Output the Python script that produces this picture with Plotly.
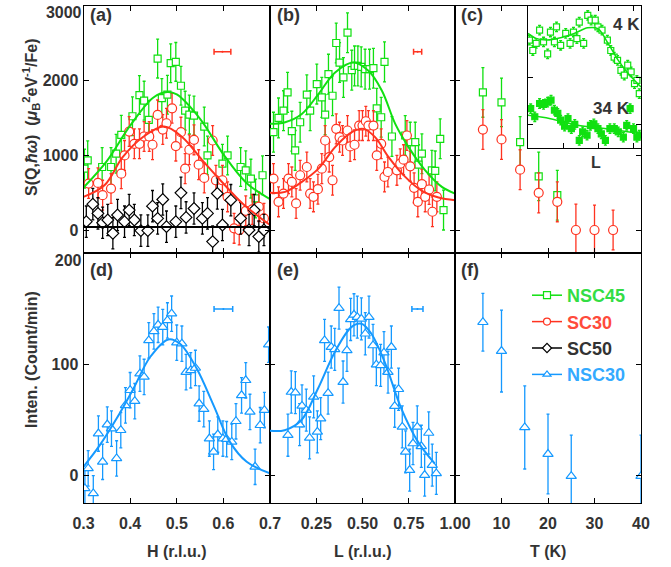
import plotly.graph_objects as go

# ---------------- data ----------------
# (a) H scans, S(Q,hw)
h_nsc45 = [0.302, 0.309, 0.340, 0.359, 0.370, 0.381, 0.405, 0.420, 0.430, 0.440, 0.459, 0.468, 0.480, 0.487,
           0.498, 0.509, 0.518, 0.527, 0.537, 0.559, 0.566, 0.598, 0.609, 0.637, 0.648, 0.659, 0.669, 0.684]
s_nsc45_h = [823, 934, 845, 845, 1023, 1276, 1525, 1809, 1734, 1476, 2298, 1769, 1814, 2236,
             2254, 1934, 1600, 1547, 1534, 1387, 1000, 889, 1000, 845, 800, 689, 423, 734]
h_sc30 = [0.311, 0.331, 0.341, 0.359, 0.381, 0.388, 0.398, 0.409, 0.420, 0.430, 0.441, 0.448, 0.459, 0.470,
          0.478, 0.490, 0.498, 0.509, 0.518, 0.527, 0.537, 0.547, 0.559, 0.577, 0.584, 0.598, 0.609, 0.623,
          0.634, 0.648, 0.662, 0.676, 0.687]
s_sc30_h = [623, 632, 467, 556, 756, 1000, 1320, 1156, 1156, 1254, 1254, 1143, 1543, 1347,
            1431, 1632, 1125, 1312, 823, 1076, 1209, 876, 698, 1200, 667, 667, 445, 23,
            0, 258, 276, 312, 156]
h_sc50 = [0.306, 0.320, 0.331, 0.341, 0.352, 0.363, 0.373, 0.388, 0.398, 0.409, 0.423, 0.438, 0.448, 0.459,
          0.470, 0.478, 0.498, 0.509, 0.520, 0.537, 0.555, 0.566, 0.577, 0.587, 0.598, 0.616, 0.637, 0.655,
          0.666, 0.676, 0.687]
s_sc50_h = [112, 347, 223, 98, 134, -44, 201, 112, 267, 134, -8, -8, 320, 156,
            409, 45, 112, 498, 169, 289, 156, 223, -155, 489, 67, 400, 156, 0,
            267, -88, 0]
fit_h_nsc45 = [0.30, 0.35, 0.40, 0.45, 0.48, 0.50, 0.55, 0.60, 0.65, 0.70]
fit_s_nsc45_h = [570, 925, 1399, 1777, 1850, 1817, 1491, 1015, 628, 415]
fit_h_sc30 = [0.300, 0.345, 0.384, 0.427, 0.473, 0.512, 0.555, 0.597, 0.641, 0.700]
fit_s_sc30_h = [444, 600, 977, 1244, 1387, 1244, 933, 644, 356, 67]
fit_h_sc50 = [0.30, 0.70]
fit_s_sc50_h = [40, 40]

# (b) L scans, S(Q,hw)
l_nsc45 = [0.019, 0.046, 0.073, 0.095, 0.118, 0.136, 0.163, 0.199, 0.217, 0.253, 0.280, 0.298, 0.316, 0.338,
           0.358, 0.376, 0.397, 0.419, 0.442, 0.457, 0.475, 0.493, 0.514, 0.538, 0.559, 0.577, 0.601, 0.619,
           0.659, 0.731, 0.758, 0.785, 0.803, 0.821, 0.875, 0.893, 0.920, 0.938]
s_nsc45_l = [1312, 1503, 1600, 1845, 1325, 1067, 1445, 1814, 1600, 1956, 1778, 1547, 2089, 1800,
             2507, 2245, 2045, 2645, 2143, 2200, 2200, 2187, 2156, 2156, 2169, 1632, 1512, 2254,
             1254, 1267, 1178, 1178, 876, 1023, 800, 792, 1223, 267]
l_sc30 = [0.019, 0.046, 0.073, 0.100, 0.118, 0.141, 0.163, 0.199, 0.217, 0.235, 0.259, 0.280, 0.298, 0.320,
          0.338, 0.358, 0.376, 0.392, 0.419, 0.433, 0.457, 0.482, 0.500, 0.518, 0.532, 0.559, 0.577, 0.601,
          0.619, 0.637, 0.686, 0.704, 0.722, 0.740, 0.758, 0.779, 0.799, 0.821, 0.839, 0.860, 0.878, 0.902]
s_sc30_l = [689, 378, 489, 689, 645, 356, 734, 845, 489, 445, 547, 823, 1200, 978,
            667, 1356, 1245, 1200, 1334, 1120, 1143, 1400, 1400, 1458, 1400, 1400, 1000, 1156,
            712, 778, 800, 889, 943, 1267, 854, 565, 378, 614, 445, 543, 245, 445]
fit_l_nsc45 = [0.0, 0.082, 0.172, 0.262, 0.352, 0.451, 0.532, 0.605, 0.677, 0.749, 0.839, 0.929, 1.0]
fit_s_nsc45_l = [1423, 1445, 1556, 1823, 2112, 2245, 2134, 1867, 1423, 1111, 800, 578, 489]
fit_l_sc30 = [0.0, 0.082, 0.172, 0.262, 0.352, 0.442, 0.505, 0.568, 0.641, 0.731, 0.821, 0.911, 1.0]
fit_s_sc30_l = [498, 512, 645, 823, 1112, 1312, 1356, 1245, 978, 712, 525, 436, 400]

# (c) temperature dependence, S(Q,hw)
t_nsc45 = [6, 10, 14, 18, 22]
s_nsc45_t = [1845, 1712, 1178, 720, 467]
e_nsc45_t = [333, 325, 342, 325, 333]
t_sc30 = [6, 10, 14, 18, 22, 26, 30, 34]
s_sc30_t = [1347, 1214, 809, 498, 378, 0, 0, 0]
e_sc30_t = [267, 267, 267, 267, 267, 347, 333, 267]

# inset of (c): NSC45 L scans at 4 K and 34 K (arb. units)
in_l_4k = [0.010, 0.034, 0.058, 0.082, 0.110, 0.139, 0.159, 0.187, 0.202, 0.231, 0.267, 0.298, 0.322, 0.346,
           0.363, 0.394, 0.423, 0.447, 0.476, 0.495, 0.524, 0.562, 0.586, 0.610, 0.634, 0.658, 0.682, 0.706,
           0.730, 0.754, 0.771, 0.788]
in_y_4k = [1.78, 1.56, 1.71, 1.99, 1.74, 1.49, 1.95, 1.74, 2.06, 1.67, 1.92, 1.71, 1.95, 1.81,
           2.16, 1.71, 2.30, 2.20, 2.20, 2.06, 1.99, 1.78, 1.56, 1.42, 1.35, 1.14, 1.04, 1.25,
           1.11, 0.86, 0.93, 0.65]
in_fit_l_4k = [0.0, 0.062, 0.135, 0.231, 0.327, 0.423, 0.495, 0.567, 0.639, 0.711, 0.8]
in_fit_y_4k = [1.92, 1.81, 1.78, 1.83, 1.92, 2.04, 2.02, 1.71, 1.35, 1.07, 0.79]
in_l_34k = [0.019, 0.048, 0.082, 0.110, 0.139, 0.163, 0.187, 0.211, 0.231, 0.259, 0.283, 0.307, 0.331, 0.363,
            0.387, 0.418, 0.442, 0.466, 0.495, 0.519, 0.548, 0.580, 0.611, 0.639, 0.675, 0.699, 0.723, 0.747,
            0.771, 0.788]
in_y_34k = [0.33, 0.16, 0.44, 0.42, 0.47, 0.51, 0.30, 0.23, 0.09, -0.04, 0.12, -0.09, 0.0, -0.34,
            -0.16, -0.23, -0.02, 0.01, -0.09, -0.20, -0.34, -0.09, -0.09, -0.16, -0.27, -0.02, 0.33, -0.09,
            -0.27, -0.23]
in_fit_l_34k = [0.0, 0.159, 0.351, 0.543, 0.8]
in_fit_y_34k = [0.19, 0.12, -0.02, -0.09, -0.20]

# (d) H scan, NSC30 intensity
h_nsc30 = [0.303, 0.310, 0.321, 0.332, 0.341, 0.351, 0.360, 0.371, 0.380, 0.390, 0.400, 0.410, 0.421, 0.430,
           0.440, 0.451, 0.460, 0.470, 0.480, 0.489, 0.500, 0.511, 0.520, 0.530, 0.540, 0.548, 0.558, 0.570,
           0.579, 0.588, 0.599, 0.607, 0.618, 0.627, 0.639, 0.648, 0.657, 0.668, 0.679, 0.688, 0.697]
i_nsc30_h = [-12, 6, -16.5, 37.5, 12, 45.6, 42, 15, 40.5, 63, 76.6, 66.7, 91.6, 88.6,
             121.6, 129.7, 135.7, 133.6, 139.6, 145.7, 119.5, 118.6, 93, 94.6, 96.7, 64.6, 59.5, 33,
             21, 36.6, 33, 32.4, 30, 48.6, 72, 85.6, 57, 7.5, 45, 58.6, 117.7]
fit_h_nsc30 = [0.300, 0.335, 0.371, 0.407, 0.443, 0.482, 0.507, 0.543, 0.579, 0.614, 0.650, 0.700]
fit_i_nsc30_h = [7.5, 27, 51, 78, 106.6, 122.5, 118.6, 96, 63, 30, 12, 1.5]

# (e) L scan, NSC30 intensity
l_nsc30 = [0.097, 0.115, 0.137, 0.160, 0.173, 0.196, 0.214, 0.236, 0.256, 0.274, 0.295, 0.314, 0.331, 0.350,
           0.373, 0.395, 0.416, 0.436, 0.454, 0.472, 0.494, 0.515, 0.535, 0.557, 0.575, 0.598, 0.616, 0.638,
           0.656, 0.674, 0.695, 0.715, 0.733, 0.755, 0.773, 0.796, 0.818, 0.836, 0.858, 0.877, 0.899]
i_nsc30_l = [36, 75, 74.4, 45.6, 62.5, 58.6, 33.6, 70.6, 39, 51, 121.6, 74, 115.6, 113.5,
             150.7, 84, 112.6, 140.5, 144.7, 142.6, 141, 127.6, 142.6, 117, 99.7, 99, 110.5, 93,
             115.6, 62.2, 77.5, 43.5, 21, 4.5, 28.5, 43.5, 26, 0, 38, 9, 1.5]
fit_l_nsc30 = [0.0, 0.079, 0.169, 0.259, 0.350, 0.440, 0.494, 0.548, 0.620, 0.710, 0.800, 0.890]
fit_i_nsc30_l = [40, 40.5, 49.5, 78, 111, 133.6, 136.6, 127.6, 102, 60, 30, 10.5]

# (f) temperature dependence, NSC30 intensity
t_nsc30 = [6, 10, 15, 20, 25, 40]
i_nsc30_t = [138, 112, 43, 19, -1, -1]
e_nsc30_t = [26, 37, 37.5, 36, 37, 37]

# instrument resolution bars: centre, height, half width
res_a = [0.598, 2391, 0.018]
res_b = [0.798, 2391, 0.022]
res_d = [0.600, 150, 0.020]
res_e = [0.797, 150, 0.030]

GREEN = '#10e010'
RED = '#ff3320'
BLACK = '#000000'
BLUE = '#1599ff'
FONT = 'Liberation Sans, Arial, sans-serif'

fig = go.Figure()


def points(x, y, err, ax, color, symbol, size, fill='white'):
    if isinstance(err, list):
        ey = dict(type='data', array=err)
    else:
        ey = dict(type='constant', value=err)
    ey.update(color=color, thickness=1.3, width=1.5)
    fig.add_trace(go.Scatter(x=x, y=y, mode='markers', xaxis='x' + ax, yaxis='y' + ax,
                             marker=dict(symbol=symbol, size=size, color=fill,
                                         line=dict(color=color, width=1.2)),
                             error_y=ey, showlegend=False, hoverinfo='skip'))


def fit(x, y, ax, color, width=2):
    fig.add_trace(go.Scatter(x=x, y=y, mode='lines', xaxis='x' + ax, yaxis='y' + ax,
                             line=dict(color=color, width=width, shape='spline', smoothing=1.0),
                             showlegend=False, hoverinfo='skip'))


def resbar(r, ax, color):
    fig.add_trace(go.Scatter(x=[r[0]], y=[r[1]], mode='markers', xaxis='x' + ax, yaxis='y' + ax,
                             marker=dict(size=2, color=color),
                             error_x=dict(type='constant', value=r[2], color=color, thickness=1.5, width=3),
                             showlegend=False, hoverinfo='skip'))


# (a)
points(h_nsc45, s_nsc45_h, 260, '', GREEN, 'square', 7)
points(h_sc30, s_sc30_h, 200, '', RED, 'circle', 9)
points(h_sc50, s_sc50_h, 210, '', BLACK, 'diamond', 9)
fit(fit_h_nsc45, fit_s_nsc45_h, '', GREEN)
fit(fit_h_sc30, fit_s_sc30_h, '', RED)
fit(fit_h_sc50, fit_s_sc50_h, '', BLACK)
resbar(res_a, '', RED)

# (b)
points(l_nsc45, s_nsc45_l, 267, '2', GREEN, 'square', 7)
points(l_sc30, s_sc30_l, 200, '2', RED, 'circle', 9)
fit(fit_l_nsc45, fit_s_nsc45_l, '2', GREEN)
fit(fit_l_sc30, fit_s_sc30_l, '2', RED)
resbar(res_b, '2', RED)

# (c)
points(t_nsc45, s_nsc45_t, e_nsc45_t, '3', GREEN, 'square', 7)
points(t_sc30, s_sc30_t, e_sc30_t, '3', RED, 'circle', 9)

# (d)
points(h_nsc30, i_nsc30_h, 16, '4', BLUE, 'triangle-up', 9)
fit(fit_h_nsc30, fit_i_nsc30_h, '4', BLUE)
resbar(res_d, '4', BLUE)

# (e)
points(l_nsc30, i_nsc30_l, 19, '5', BLUE, 'triangle-up', 9)
fit(fit_l_nsc30, fit_i_nsc30_l, '5', BLUE)
resbar(res_e, '5', BLUE)

# (f)
points(t_nsc30, i_nsc30_t, e_nsc30_t, '6', BLUE, 'triangle-up', 9)

# inset
points(in_l_4k, in_y_4k, 0.1, '7', GREEN, 'square', 6)
points(in_l_34k, in_y_34k, 0.1, '7', GREEN, 'square', 6, fill=GREEN)
fit(in_fit_l_4k, in_fit_y_4k, '7', GREEN, 1.5)
fit(in_fit_l_34k, in_fit_y_34k, '7', GREEN, 1.5)

# empty traces so the overlay axes that carry the top tick labels get drawn
for ax in ['8', '9']:
    fig.add_trace(go.Scatter(x=[None], y=[None], xaxis='x' if ax == '8' else 'x4', yaxis='y' + ax,
                             showlegend=False, hoverinfo='skip'))

# legend entries
legend_items = [('NSC45', GREEN, '#33dd44', 'square'), ('SC30', RED, '#ff4b3b', 'circle'),
                ('SC50', BLACK, '#333333', 'diamond'), ('NSC30', BLUE, '#33aaff', 'triangle-up')]
for name, c, tc, sym in legend_items:
    fig.add_trace(go.Scatter(x=[None], y=[None], mode='lines+markers', xaxis='x6', yaxis='y6',
                             name='<span style="color:%s">%s</span>' % (tc, name),
                             line=dict(color=c, width=1.5),
                             marker=dict(symbol=sym, size=7, color='white', line=dict(color=c, width=1.2))))

W, H = 671, 567
cols = [[83.5 / W, 270 / W], [270 / W, 455 / W], [455 / W, 641 / W]]
rows = [[1 - 253 / H, 1 - 6 / H], [1 - 503 / H, 1 - 253 / H]]
tickfont = dict(family=FONT, size=16, color='#333333', weight='bold')


def axis(domain, rng, tickvals, labels, fmt, anchor, standoff, ticktext=None):
    d = dict(domain=domain, range=rng, tickvals=tickvals, showticklabels=labels, tickformat=fmt,
             anchor=anchor, ticks='inside', ticklen=5, tickwidth=1, tickcolor='black',
             showline=True, linecolor='black', linewidth=1, mirror='ticks', automargin=False,
             showgrid=False, zeroline=False, tickfont=tickfont, ticklabelstandoff=standoff,
             ticklabeloverflow='allow')
    if ticktext is not None:
        d['ticktext'] = ticktext
    return d


def label_axis(domain, rng, tickval, over, anchor, shift):
    # carries only the topmost tick label, nudged down inside the frame
    return dict(domain=domain, range=rng, tickvals=[tickval], ticktext=[str(tickval)], overlaying=over,
                anchor=anchor, side='left', ticks='', showline=False, showgrid=False, zeroline=False,
                automargin=False, tickfont=tickfont, ticklabelstandoff=1, ticklabelshift=shift,
                ticklabeloverflow='allow')


s_rng = [-308, 3003]
i_rng = [-25.2, 200.5]
s_ticks = [0, 1000, 2000, 3000]
s_text = ['0', '1000', '2000', '']
i_ticks = [0, 100, 200]
i_text = ['0', '100', '']
h_ticks = [0.3, 0.4, 0.5, 0.6, 0.7]
l_ticks = [0.25, 0.5, 0.75, 1.0]
t_ticks = [10, 20, 30, 40]

fig.update_layout(
    template='none',
    xaxis=axis(cols[0], [0.3, 0.7], h_ticks, False, '.1f', 'y', 6),
    yaxis=axis(rows[0], s_rng, s_ticks, True, 'd', 'x', 1, s_text),
    xaxis2=axis(cols[1], [0, 1], l_ticks, False, '.2f', 'y2', 6),
    yaxis2=axis(rows[0], s_rng, s_ticks, False, 'd', 'x2', 1),
    xaxis3=axis(cols[2], [0, 40], t_ticks, False, 'd', 'y3', 6),
    yaxis3=axis(rows[0], s_rng, s_ticks, False, 'd', 'x3', 1),
    xaxis4=axis(cols[0], [0.3, 0.7], h_ticks, True, '.1f', 'y4', 6),
    yaxis4=axis(rows[1], i_rng, i_ticks, True, 'd', 'x4', 1, i_text),
    xaxis5=axis(cols[1], [0, 1], l_ticks, True, '.2f', 'y5', 6),
    yaxis5=axis(rows[1], i_rng, i_ticks, False, 'd', 'x5', 1),
    xaxis6=axis(cols[2], [0, 40], t_ticks, True, 'd', 'y6', 6),
    yaxis6=axis(rows[1], i_rng, i_ticks, False, 'd', 'x6', 1),
    xaxis7=axis([528 / W, 641 / W], [0, 0.8], [0.25, 0.5, 0.75], False, '.2f', 'y7', 6),
    yaxis7=axis([1 - 148 / H, 1 - 6 / H], [-0.5, 2.5], [0, 1], False, 'd', 'x7', 1),
    yaxis8=label_axis(rows[0], s_rng, 3000, 'y', 'x', 6),
    yaxis9=label_axis(rows[1], i_rng, 200, 'y4', 'x4', 7),
    width=W, height=H, margin=dict(l=0, r=0, t=0, b=0, autoexpand=False),
    paper_bgcolor='white', plot_bgcolor='white',
    font=dict(family=FONT, color='#333333'),
    legend=dict(x=527 / W, y=1 - 277 / H, xanchor='left', yanchor='top', bgcolor='rgba(0,0,0,0)',
                font=dict(family=FONT, size=18, weight='bold'), itemwidth=30, tracegroupgap=0),
)

ann = []
# panel labels
for lab, x, y in [('(a)', 88, 15), ('(b)', 275, 15), ('(c)', 459, 15),
                  ('(d)', 88, 270), ('(e)', 275, 270), ('(f)', 459, 270)]:
    ann.append(dict(text=lab, x=x / W, y=1 - y / H, xref='paper', yref='paper', xanchor='left',
                    yanchor='middle', showarrow=False,
                    font=dict(family=FONT, size=18, color='#333333', weight='bold')))
# inset texts
inset_font = dict(family=FONT, size=17, color='#333333', weight='bold')
ann.append(dict(text='4 K', x=0.70, y=2.11, xref='x7', yref='y7', showarrow=False,
                xanchor='center', yanchor='middle', font=inset_font))
ann.append(dict(text='34 K', x=0.59, y=0.34, xref='x7', yref='y7', showarrow=False,
                xanchor='center', yanchor='middle', font=inset_font))
ann.append(dict(text='L', x=596 / W, y=1 - 162 / H, xref='paper', yref='paper', showarrow=False,
                xanchor='center', yanchor='middle',
                font=dict(family=FONT, size=16, color='#333333', weight='bold')))
# axis titles
title_font = dict(family=FONT, size=16, color='#333333', weight='bold')
for txt, x in [('H (r.l.u.)', 177), ('L (r.l.u.)', 362), ('T (K)', 548)]:
    ann.append(dict(text=txt, x=x / W, y=1 - 551 / H, xref='paper', yref='paper', showarrow=False,
                    xanchor='center', yanchor='middle', font=title_font))
ann.append(dict(text='S(Q,<i>ħω</i>)  (<i>μ</i><sub>B</sub><sup>2</sup>eV<sup>-1</sup>/Fe)',
                x=31 / W, y=1 - 117 / H, xref='paper', yref='paper', showarrow=False,
                xanchor='center', yanchor='middle', textangle=-90, font=title_font))
ann.append(dict(text='Inten. (Count/min)', x=31 / W, y=1 - 360 / H, xref='paper', yref='paper',
                showarrow=False, xanchor='center', yanchor='middle', textangle=-90, font=title_font))
fig.update_layout(annotations=ann)

# the page body has a default 8px margin; drop it so the figure sits at the window corner
fig.write_html("out.html", config={'displayModeBar': False},
               post_script="document.body.style.margin='0';")
